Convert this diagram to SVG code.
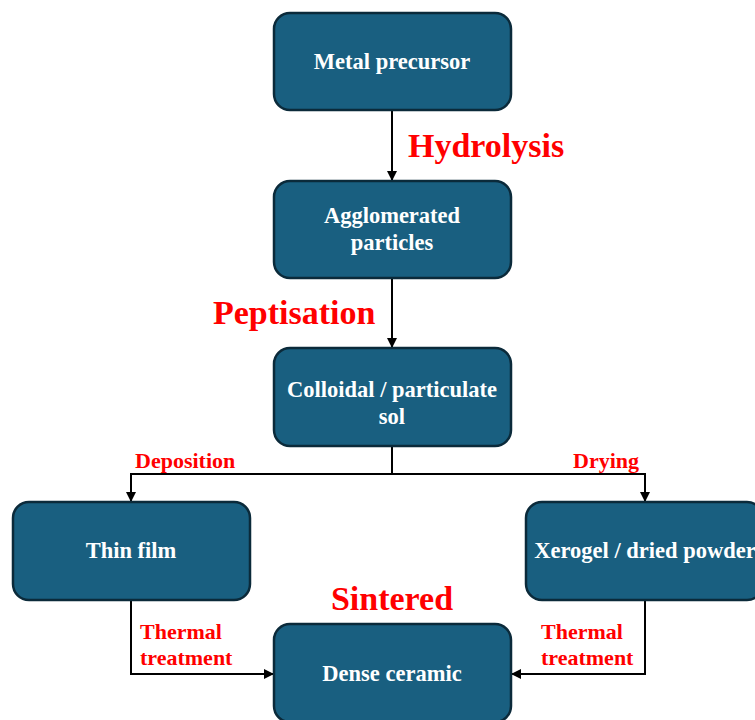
<svg xmlns="http://www.w3.org/2000/svg" width="755" height="720" viewBox="0 0 755 720">
<style>
.box{fill:#195f80;stroke:#0b2a3a;stroke-width:2.5}
.t{font-family:"Liberation Serif","Times New Roman",serif;font-weight:bold;fill:#ffffff;font-size:22.5px;text-anchor:middle}
.lbl{font-family:"Liberation Serif","Times New Roman",serif;font-weight:bold;fill:#ff0000}
.big{font-size:34px}
.sm{font-size:22px}
.ln{fill:none;stroke:#000;stroke-width:2}
</style>
<defs>
<marker id="ah" viewBox="0 0 10 10" refX="10" refY="5" markerWidth="10" markerHeight="10" markerUnits="userSpaceOnUse" orient="auto">
<path d="M0,0 L10,5 L0,10 z" fill="#000"/>
</marker>
</defs>
<g id="connectors">
<path class="ln" d="M392,110 V181" marker-end="url(#ah)"/>
<path class="ln" d="M392,278 V348" marker-end="url(#ah)"/>
<path class="ln" d="M392,446 V474 H131 V502" marker-end="url(#ah)"/>
<path class="ln" d="M392,474 H645 V502" marker-end="url(#ah)"/>
<path class="ln" d="M131,600 V674 H274" marker-end="url(#ah)"/>
<path class="ln" d="M645,600 V674 H511" marker-end="url(#ah)"/>
</g>
<g id="n1"><rect class="box" x="274" y="13" width="237" height="97" rx="16"/><text class="t" x="392" y="69">Metal precursor</text></g>
<g id="n2"><rect class="box" x="274" y="181" width="237" height="97" rx="16"/><text class="t" x="392" y="223">Agglomerated</text><text class="t" x="392" y="250">particles</text></g>
<g id="n3"><rect class="box" x="274" y="348" width="237" height="98" rx="16"/><text class="t" x="392" y="397">Colloidal / particulate</text><text class="t" x="392" y="424">sol</text></g>
<g id="n4"><rect class="box" x="13" y="502" width="237" height="98" rx="16"/><text class="t" x="131" y="558">Thin film</text></g>
<g id="n5"><rect class="box" x="526" y="502" width="237" height="98" rx="16"/><text class="t" x="645" y="558">Xerogel / dried powder</text></g>
<g id="n6"><rect class="box" x="274" y="624" width="237" height="98" rx="16"/><text class="t" x="392" y="681">Dense ceramic</text></g>
<g id="labels">
<text class="lbl big" x="408" y="157">Hydrolysis</text>
<text class="lbl big" x="213" y="324">Peptisation</text>
<text class="lbl big" x="392" y="610" text-anchor="middle">Sintered</text>
<text class="lbl sm" x="135" y="468">Deposition</text>
<text class="lbl sm" x="573" y="468">Drying</text>
<text class="lbl sm" x="140" y="639">Thermal</text>
<text class="lbl sm" x="140" y="665">treatment</text>
<text class="lbl sm" x="541" y="639">Thermal</text>
<text class="lbl sm" x="541" y="665">treatment</text>
</g>
</svg>
